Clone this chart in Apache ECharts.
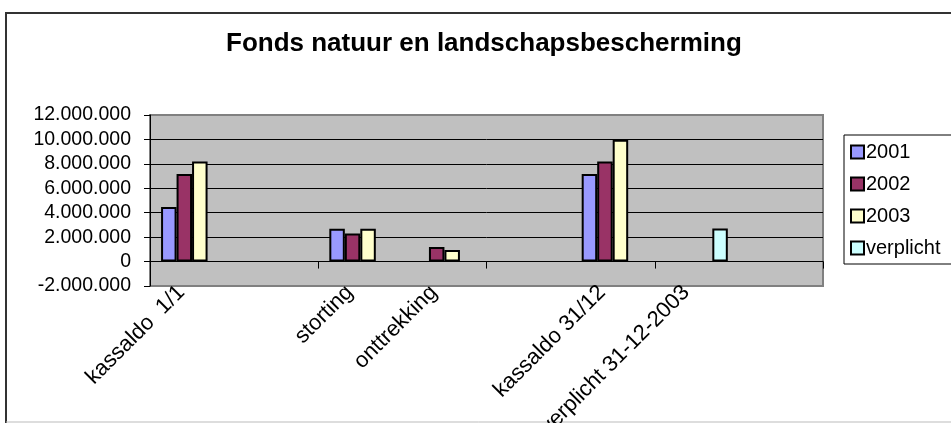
<!DOCTYPE html>
<html>
<head>
<meta charset="utf-8">
<script src="https://cdn.jsdelivr.net/npm/echarts@6/dist/echarts.min.js"></script>
<style>
  html, body { margin: 0; padding: 0; background: #fff; }
  #main { width: 951px; height: 423px; }
</style>
</head>
<body>
<div id="main"></div>
<script>
const categories = ['kassaldo  1/1', '', 'storting', 'onttrekking', '', 'kassaldo 31/12', 'verplicht 31-12-2003', '']
const v2001 = [4460000, null, 2680000, null, null, 7170000, null, null]
const v2002 = [7170000, null, 2290000, 1190000, null, 8200000, null, null]
const v2003 = [8200000, null, 2680000, 940000, null, 9970000, null, null]
const vVerplicht = [null, null, null, null, null, null, 2700000, null]
const seriesNames = ['2001', '2002', '2003', 'verplicht']
const seriesColors = ['#9999FF', '#993366', '#FFFFCC', '#CCFFFF']

const font = 'Liberation Sans, Arial, sans-serif'

// punt als duizendtal-scheiding
const fmt = v => String(v).replace(/\B(?=(\d{3})+(?!\d))/g, '.')

const makeSerie = (name, data, color) => ({
  name: name,
  type: 'bar',
  xAxisIndex: 0,
  data: data,
  barWidth: 15.5,
  barGap: '0%',
  itemStyle: { color: color, borderColor: '#000', borderWidth: 2 },
  emphasis: { disabled: true }
})

const chart = echarts.init(document.getElementById('main'))
chart.setOption({
  animation: false,
  textStyle: { fontFamily: font },
  title: {
    text: 'Fonds natuur en landschapsbescherming',
    left: 226,
    top: 31,
    padding: 0,
    textStyle: { fontFamily: font, fontSize: 26, fontWeight: 'bold', color: '#000' }
  },
  graphic: [
    { type: 'rect', shape: { x: 6, y: 13, width: 1000, height: 600 }, style: { fill: null, stroke: '#333', lineWidth: 2 }, silent: true },
    { type: 'line', shape: { x1: 6, y1: 422, x2: 951, y2: 422 }, style: { stroke: '#bbb', lineWidth: 1 }, silent: true }
  ],
  legend: {
    orient: 'vertical',
    left: 844,
    top: 135,
    padding: [7, 14, 6, 6],
    itemGap: 12,
    itemWidth: 13,
    itemHeight: 13,
    icon: 'rect',
    backgroundColor: '#fff',
    borderColor: '#000',
    borderWidth: 1,
    textStyle: { fontFamily: font, fontSize: 20, color: '#000', padding: [0, 0, 0, -3] },
    data: seriesNames
  },
  grid: {
    left: 150,
    right: 128,
    top: 115,
    bottom: 137,
    outerBoundsMode: 'none',
    show: true,
    backgroundColor: '#C0C0C0',
    borderColor: '#808080',
    borderWidth: 2
  },
  xAxis: [
    {
      type: 'category',
      data: categories,
      boundaryGap: true,
      axisLine: { onZero: true, lineStyle: { color: '#000', width: 1 } },
      axisTick: { show: true, length: 7, lineStyle: { color: '#000' } },
      axisLabel: { show: false },
      splitLine: { show: false }
    },
    {
      type: 'category',
      data: categories,
      position: 'bottom',
      boundaryGap: true,
      axisLine: { show: false, onZero: false },
      axisTick: { show: false },
      axisLabel: {
        interval: 0,
        rotate: 45,
        margin: 8,
        verticalAlign: 'bottom',
        padding: [0, 4, 0, 0],
        fontFamily: font,
        fontSize: 22,
        color: '#000'
      }
    }
  ],
  yAxis: {
    type: 'value',
    min: -2000000,
    max: 12000000,
    interval: 2000000,
    axisLine: { show: true, onZero: false, lineStyle: { color: '#000', width: 1 } },
    axisTick: { show: true, length: 6, lineStyle: { color: '#000' } },
    axisLabel: { margin: 19, fontFamily: font, fontSize: 19.5, color: '#000', formatter: fmt },
    splitLine: { show: true, showMinLine: false, showMaxLine: false, lineStyle: { color: '#000', width: 1 } }
  },
  series: [
    makeSerie(seriesNames[0], v2001, seriesColors[0]),
    makeSerie(seriesNames[1], v2002, seriesColors[1]),
    makeSerie(seriesNames[2], v2003, seriesColors[2]),
    makeSerie(seriesNames[3], vVerplicht, seriesColors[3])
  ]
})
</script>
</body>
</html>
